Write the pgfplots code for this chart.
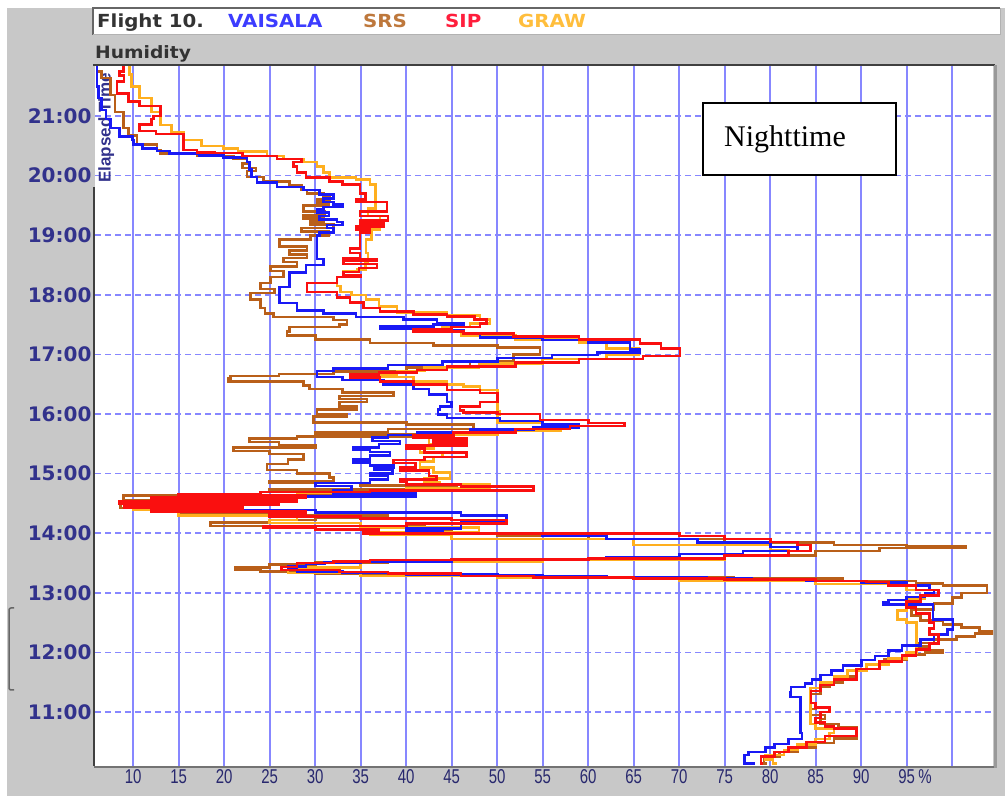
\documentclass[border=0pt]{standalone}
\usepackage{pgfplots}
\pgfplotsset{compat=1.18}
\usepackage{fontspec}
\setmainfont{DejaVu Sans}
\newfontfamily\djsans{DejaVu Sans}
\newfontfamily\djwide[FakeStretch=1.1]{DejaVu Sans}
\newfontfamily\narrowsans[FakeStretch=0.75]{Liberation Sans}
\newfontfamily\libsans{Liberation Sans}
\newfontfamily\libserif{Liberation Serif}
\definecolor{cblue}{RGB}{25,25,245}
\definecolor{cbrown}{RGB}{185,95,25}
\definecolor{cred}{RGB}{250,15,15}
\definecolor{corange}{RGB}{255,175,30}
\definecolor{gridc}{RGB}{135,135,255}
\definecolor{panel}{RGB}{200,200,200}
\definecolor{ylab}{RGB}{50,50,140}
\definecolor{xlab}{RGB}{40,40,110}
\definecolor{lgblue}{RGB}{60,60,255}
\definecolor{lgbrown}{RGB}{190,120,60}
\definecolor{lgred}{RGB}{255,30,60}
\definecolor{lgorange}{RGB}{255,190,60}
\begin{document}
\begin{tikzpicture}
% background
\fill[white] (0pt,0pt) rectangle (1005pt,796pt);
\fill[panel] (7pt,0pt) rectangle (1005pt,788pt);
% legend box
\fill[white] (93pt,761pt) rectangle (1000pt,788pt);
\draw[black!60, line width=1.5pt] (93pt,761pt) -- (93pt,788pt) -- (1000pt,788pt);
\draw[black!30, line width=1pt] (93pt,761pt) -- (1000pt,761pt) -- (1000pt,788pt);
\node[anchor=base west, inner sep=0pt, font=\djwide\bfseries\fontsize{18}{18}\selectfont, text=black!80] at (97pt,768pt) {Flight 10.};
\node[anchor=base west, inner sep=0pt, font=\djwide\bfseries\fontsize{18}{18}\selectfont, text=lgblue] at (228pt,768pt) {VAISALA};
\node[anchor=base west, inner sep=0pt, font=\djwide\bfseries\fontsize{18}{18}\selectfont, text=lgbrown] at (363pt,768pt) {SRS};
\node[anchor=base west, inner sep=0pt, font=\djwide\bfseries\fontsize{18}{18}\selectfont, text=lgred] at (445pt,768pt) {SIP};
\node[anchor=base west, inner sep=0pt, font=\djwide\bfseries\fontsize{18}{18}\selectfont, text=lgorange] at (518pt,768pt) {GRAW};
\node[anchor=base west, inner sep=0pt, font=\djwide\bfseries\fontsize{17}{17}\selectfont, text=black!80] at (95pt,737pt) {Humidity};
% left bracket
\draw[black!60, line width=1.5pt, rounded corners=2pt] (14pt,188pt) -- (9pt,188pt) -- (9pt,106pt) -- (14pt,106pt);
\begin{axis}[
  at={(95pt,30pt)}, anchor=south west,
  scale only axis, width=898pt, height=701pt,
  xmin=5.8, xmax=104.48, ymin=10.094, ymax=21.856,
  axis line style={draw=none},
  xtick={10,15,...,100},
  xticklabels={10,15,20,25,30,35,40,45,50,55,60,65,70,75,80,85,90,{95\rlap{\,\%}},{}},
  ytick={11,12,...,21},
  yticklabels={11:00,12:00,13:00,14:00,15:00,16:00,17:00,18:00,19:00,20:00,21:00},
  major tick length=0pt,
  xmajorgrids, ymajorgrids,
  x grid style={gridc, line width=1.7pt},
  y grid style={gridc, line width=1.6pt, dash pattern=on 6pt off 4pt},
  xticklabel style={font=\narrowsans\fontsize{20}{20}\selectfont, text=xlab},
  yticklabel style={font=\djsans\bfseries\fontsize{20}{20}\selectfont, text=ylab},
  axis background/.style={fill=white},
]
\node[rotate=90, anchor=west, inner sep=0pt, font=\libsans\bfseries\fontsize{17}{17}\selectfont, text=ylab] at (rel axis cs:0.0125,0.832) {Elapsed Time};
% SRS
\addplot[const plot, cbrown, line width=2.6pt] coordinates {
(79.6,10.14) (79.3,10.25) (81,10.33) (83,10.4) (85,10.48) (87,10.56) (89.5,10.65) (89.5,10.74) (87.5,10.8) (85.5,10.88) (86,10.95) (84.5,11.05) (85,11.15) (84.5,11.3) (85.5,11.42) (86.5,11.5) (88,11.6) (89.5,11.7) (90.6,11.8) (92.5,11.88) (95,11.96) (97,12.0) (99,12.04) (97.5,12.1) (96,12.16) (98,12.22) (100.5,12.27) (102.5,12.32) (104.4,12.36) (103,12.42) (101,12.47) (99,12.54) (96.5,12.62) (95.5,12.72) (98,12.82) (100,12.92) (101,13.0) (103.8,13.12) (99,13.16) (96,13.2) (88,13.24) (76,13.26) (62,13.28) (48,13.3) (38,13.32) (30,13.36) (24,13.39) (21.2,13.42) (25,13.47) (30,13.51) (38,13.53) (50,13.55) (62,13.58) (75,13.63) (85,13.7) (92,13.75) (101.5,13.78) (95,13.8) (87,13.84) (75,13.9) (60,13.95) (50,13.99) (45,14.04) (42,14.12) (18.5,14.18) (25,14.22) (30,14.26) (38,14.3) (25,14.35) (15,14.42) (8.6,14.52) (20,14.56) (8.9,14.63) (30,14.67) (36.3,14.69) (25,14.73) (45.6,14.8) (35,14.84) (25,14.87) (32,14.93) (31.6,15.0) (28,15.06) (24.7,15.16) (27,15.24) (28.7,15.33) (25,15.38) (21,15.44) (30,15.48) (26,15.53) (22.8,15.59) (28,15.62) (43,15.66) (30,15.7) (38,15.75) (47.4,15.82) (40,15.86) (29.8,15.96) (33.5,16.0) (30.2,16.08) (34.6,16.13) (32.7,16.2) (35.7,16.25) (32.7,16.3) (38.6,16.36) (33,16.42) (29.4,16.48) (28.7,16.55) (20.4,16.6) (20.7,16.64) (26,16.67) (32,16.71) (40,16.78) (47,16.88) (51.8,17.0) (54.7,17.12) (50,17.15) (43,17.19) (36,17.25) (30,17.32) (26.9,17.38) (27.2,17.46) (32.7,17.5) (33.5,17.58) (32,17.63) (25.4,17.69) (24.5,17.78) (24,17.92) (22.9,18.03) (25.5,18.1) (24,18.2) (25.1,18.3) (26.5,18.4) (25.1,18.48) (28,18.55) (26.5,18.62) (29.1,18.68) (27.2,18.74) (29.1,18.81) (26.1,18.93) (29.5,19.0) (31.5,19.06) (28.5,19.12) (32,19.18) (29.5,19.23) (30.9,19.28) (28.7,19.33) (31,19.4) (28.7,19.5) (31.5,19.55) (30.2,19.6) (31.6,19.65) (30.9,19.7) (29.1,19.76) (28.5,19.83) (27.2,19.9) (24.3,19.98) (22.5,20.08) (23.5,20.13) (22,20.2) (22.5,20.28) (21,20.33) (17,20.37) (13,20.42) (12.6,20.52) (10.4,20.67) (9.5,20.8) (8.9,21.07) (8,21.35) (7.5,21.64) (6.5,21.75) (6,21.86)
};
% GRAW
\addplot[const plot, corange, line width=2.6pt] coordinates {
(80.7,10.14) (80.3,10.2) (79.5,10.28) (81.5,10.36) (83,10.45) (85,10.55) (86.5,10.65) (87,10.72) (85,10.8) (84.4,10.92) (84.4,11.2) (84.4,11.4) (85.5,11.5) (87,11.6) (88.5,11.7) (90.6,11.8) (93,11.9) (95,12.0) (96.1,12.15) (96.1,12.3) (96.1,12.5) (95,12.55) (94,12.7) (95,12.82) (95,12.9) (97,12.97) (98,13.05) (95,13.15) (85,13.2) (70,13.25) (50,13.28) (35,13.33) (27,13.42) (35,13.52) (55,13.56) (75,13.63) (82,13.72) (80,13.8) (65,13.9) (45,13.97) (36,14.02) (48,14.1) (35,14.17) (25,14.22) (28,14.3) (15,14.4) (10,14.5) (22,14.56) (15,14.62) (28,14.68) (40,14.75) (49.2,14.82) (43.7,14.86) (42,14.92) (44.8,15.02) (43,15.1) (41.5,15.2) (43,15.28) (44,15.35) (41.5,15.42) (43,15.5) (42.5,15.6) (44,15.66) (50,15.72) (57,15.8) (55,15.86) (50,15.98) (50.3,16.05) (50,16.25) (50,16.4) (48.1,16.46) (46.3,16.5) (44.5,16.55) (40.8,16.62) (37.1,16.66) (39,16.72) (42,16.78) (48,16.85) (55,16.92) (62,17.0) (65.5,17.1) (62,17.2) (59,17.25) (52,17.32) (46,17.38) (44,17.46) (47,17.52) (49.2,17.59) (48.1,17.65) (44.5,17.7) (39,17.8) (37,17.92) (35.6,18.0) (34,18.05) (32.8,18.15) (32.4,18.3) (33.1,18.4) (34.6,18.42) (35.5,18.55) (35.8,18.7) (35.6,18.93) (36.2,19.1) (37.1,19.32) (35.8,19.45) (36.6,19.6) (36.6,19.85) (36,19.93) (34.5,19.97) (31.6,20.05) (30.9,20.15) (30.2,20.23) (28.7,20.28) (26.5,20.33) (24.7,20.4) (21.5,20.45) (19.9,20.5) (17.5,20.6) (15.5,20.73) (14.2,20.85) (13,21.07) (12,21.3) (10.7,21.5) (9.8,21.7) (9.6,21.86)
};
% VAISALA
\addplot[const plot, cblue, line width=2.6pt] coordinates {
(78.3,10.14) (77.2,10.28) (77.6,10.33) (79.5,10.4) (80.5,10.46) (82,10.55) (83.5,10.65) (83.3,10.75) (83.3,11.25) (82.2,11.33) (82.3,11.42) (83.8,11.48) (84.6,11.55) (85.5,11.62) (86.7,11.7) (88,11.78) (90,11.87) (91.5,11.94) (93,12.03) (94.5,12.12) (96.5,12.22) (98,12.3) (99.5,12.38) (100.1,12.45) (100.1,12.55) (97.9,12.6) (97.9,12.8) (92.4,12.84) (93,12.88) (95,12.93) (97,13.0) (98,13.05) (97.5,13.12) (95,13.17) (90,13.2) (84,13.22) (78,13.24) (73,13.26) (62,13.28) (55,13.3) (50,13.31) (40,13.33) (33,13.36) (28,13.4) (27,13.44) (29,13.48) (31,13.51) (35,13.53) (45,13.55) (55,13.57) (62,13.6) (70,13.65) (77,13.7) (83,13.77) (80,13.84) (72,13.9) (62,13.96) (55,14.0) (44,14.03) (40,14.08) (46,14.2) (51,14.3) (46,14.35) (30,14.39) (20,14.43) (11,14.48) (20,14.52) (15,14.57) (25,14.62) (41,14.67) (32,14.72) (34,14.79) (30,14.84) (36,14.9) (38,14.96) (36,15.0) (38.5,15.06) (36.5,15.1) (38.6,15.14) (36,15.19) (34.2,15.24) (36,15.3) (38.2,15.36) (36,15.4) (34.2,15.44) (37,15.5) (39.3,15.55) (36.3,15.61) (38,15.65) (41.2,15.69) (47,15.74) (54,15.77) (59,15.82) (55,15.88) (50.3,15.93) (44.5,15.99) (43.5,16.08) (43.7,16.13) (45,16.2) (44.5,16.33) (42.5,16.42) (40.8,16.5) (37.5,16.57) (33,16.62) (30.2,16.66) (30.2,16.72) (32,16.76) (38,16.82) (44,16.88) (50,16.94) (56,16.99) (61,17.03) (65.7,17.08) (64.6,17.2) (60,17.24) (55,17.28) (48.1,17.35) (46.3,17.41) (40.8,17.43) (37.1,17.47) (43,17.5) (46.3,17.53) (43.4,17.59) (39.7,17.63) (34.5,17.69) (30.9,17.74) (28,17.86) (26.1,17.96) (26.1,18.13) (27.2,18.37) (29,18.5) (30.9,18.6) (30.2,18.65) (30.2,19.0) (30.5,19.05) (32,19.12) (31.3,19.17) (33,19.22) (32.4,19.26) (30.5,19.32) (31.5,19.38) (30.2,19.43) (30.9,19.47) (33,19.52) (32,19.56) (30.9,19.62) (32,19.68) (30.5,19.76) (28.7,19.81) (25.8,19.88) (23.6,19.98) (23,20.1) (22.8,20.23) (22.5,20.3) (19.9,20.34) (17.3,20.37) (14,20.41) (12.6,20.45) (11,20.52) (10,20.6) (9.9,20.66) (8.5,20.8) (7.5,20.95) (7,21.1) (6.5,21.3) (6.2,21.5) (6.0,21.7) (6.0,21.86)
};
% SIP
\addplot[const plot, cred, line width=2.6pt] coordinates {
(79.2,10.14) (79,10.25) (80.5,10.33) (82,10.4) (84,10.5) (86,10.6) (89.5,10.72) (87,10.76) (86,10.82) (85,10.9) (85.5,11.0) (86.5,11.08) (85,11.15) (84.5,11.2) (84.5,11.35) (85.5,11.45) (87,11.55) (89.5,11.72) (92,11.85) (94.5,11.95) (96,12.05) (97.5,12.15) (98.5,12.3) (97.5,12.4) (98,12.5) (97.5,12.65) (96,12.75) (95,12.85) (96.5,12.95) (98.5,13.05) (96,13.12) (93,13.18) (90.6,13.2) (85,13.22) (75,13.24) (65,13.26) (54,13.28) (46,13.32) (38,13.35) (32.7,13.38) (26.3,13.43) (28,13.5) (32,13.53) (36,13.55) (45,13.56) (60,13.58) (75,13.63) (82,13.7) (84.4,13.8) (83,13.85) (80,13.9) (75,13.95) (70,14.0) (35.3,14.02) (37,14.06) (30,14.1) (24.3,14.12) (40,14.16) (51,14.22) (45,14.25) (35,14.28) (25,14.32) (29,14.36) (12,14.4) (22,14.43) (9,14.47) (26,14.5) (8.5,14.53) (28,14.57) (12,14.6) (29,14.63) (15,14.66) (24,14.69) (36,14.72) (54,14.78) (46,14.82) (40,14.86) (39.3,14.9) (43.3,14.96) (42.5,15.05) (39.3,15.1) (41,15.18) (38.6,15.23) (42,15.28) (46.6,15.35) (42,15.42) (40,15.47) (46.6,15.52) (43,15.57) (46.6,15.6) (40.8,15.64) (45.2,15.69) (52,15.75) (58,15.8) (64,15.85) (60,15.9) (54.7,16.0) (50,16.03) (46.3,16.06) (45.9,16.13) (48.1,16.2) (50,16.25) (50,16.35) (48.1,16.4) (44.5,16.5) (40.8,16.55) (37.1,16.61) (33.8,16.66) (37,16.7) (41.2,16.74) (44.5,16.8) (52,16.86) (59,16.92) (66,16.97) (70.1,17.1) (68,17.18) (65.7,17.25) (59,17.3) (51.8,17.35) (46.3,17.38) (40.8,17.42) (45,17.46) (48.1,17.52) (48.8,17.59) (47.5,17.64) (44.5,17.67) (40.8,17.72) (37.1,17.78) (35.3,17.87) (33.8,17.95) (32.4,18.05) (29.1,18.1) (29.1,18.2) (32.4,18.3) (35,18.32) (33.1,18.38) (34.8,18.45) (36.8,18.52) (33.1,18.57) (36.8,18.6) (33.1,18.62) (34.9,18.7) (33.8,18.78) (34.9,18.93) (34.9,19.05) (36,19.1) (34.5,19.15) (37.5,19.2) (35,19.25) (38,19.32) (34.9,19.4) (37.9,19.56) (34.5,19.6) (35.5,19.7) (34.9,19.85) (33,19.9) (31.6,19.97) (29,20.05) (28,20.15) (27.6,20.23) (28.5,20.28) (25.8,20.33) (22,20.38) (19,20.39) (17,20.43) (15.5,20.55) (15.5,20.7) (12.5,20.75) (10.7,20.86) (12,20.95) (12.2,21.0) (13,21.17) (10.7,21.24) (9.5,21.38) (8.2,21.58) (9,21.68) (8.5,21.75) (8.9,21.86)
};
\end{axis}
% frame
\draw[black!75, line width=2pt] (93pt,731pt) -- (995pt,731pt);
\draw[black!75, line width=2pt] (94pt,30pt) -- (94pt,609pt);
\draw[black!55, line width=2.5pt] (94pt,29pt) -- (996pt,29pt);
\draw[black!40, line width=3pt] (995pt,28pt) -- (995pt,731pt);
% Nighttime box
\draw[fill=white, line width=1.2pt] (703pt,621pt) rectangle (896pt,693pt);
\node[anchor=base west, inner sep=0pt, font=\libserif\fontsize{30}{30}\selectfont] at (724pt,649pt) {Nighttime};
\pgfresetboundingbox
\useasboundingbox (0pt,0pt) rectangle (1005pt,796pt);
\end{tikzpicture}
\end{document}
